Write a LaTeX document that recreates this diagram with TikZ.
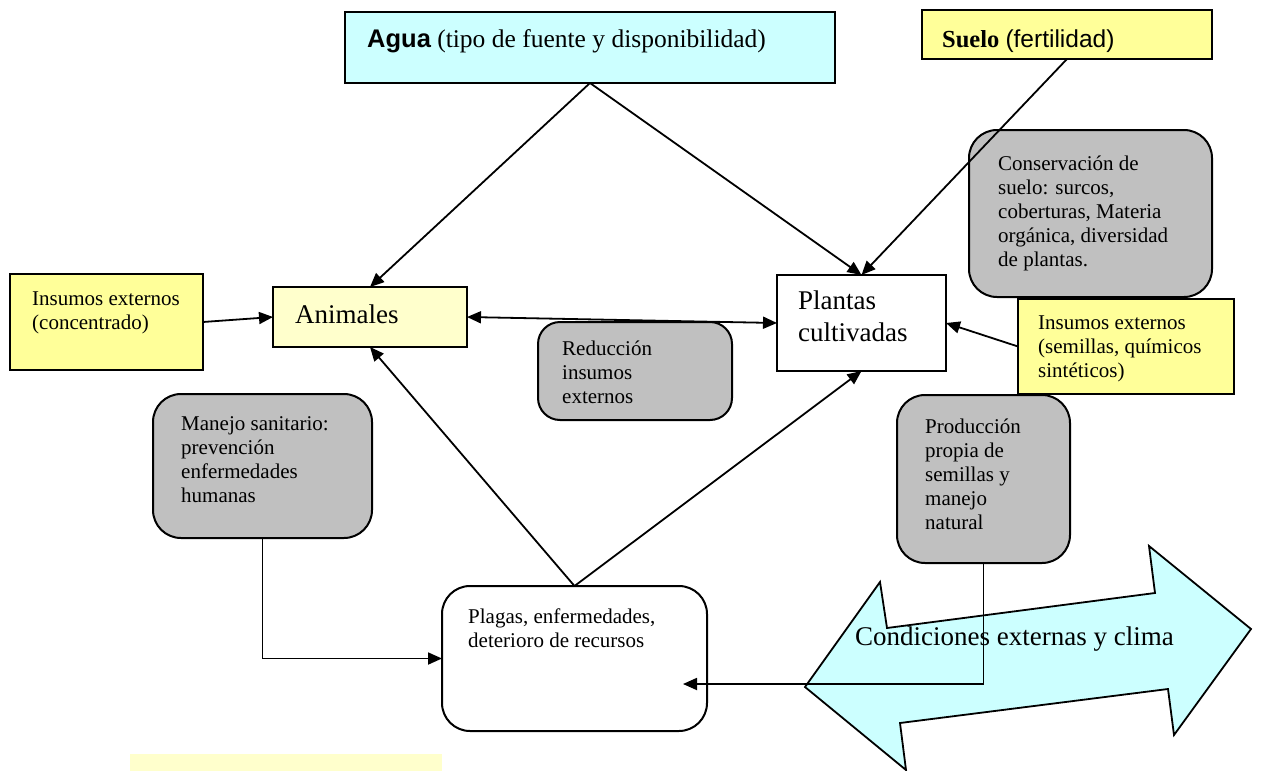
\documentclass[tikz,border=0pt]{standalone}
\usepackage{fontspec}
\setmainfont{Liberation Serif}
\newfontfamily\arialf{Liberation Sans}
\usetikzlibrary{arrows.meta}
\definecolor{cyanbg}{HTML}{CCFFFF}
\definecolor{ybg}{HTML}{FFFF99}
\definecolor{lybg}{HTML}{FFFFCC}
\definecolor{graybg}{HTML}{C0C0C0}
\begin{document}
\begin{tikzpicture}[x=1pt,y=-1pt,
 box/.style={draw, line width=2pt, anchor=north west, inner sep=0pt, outer sep=0pt},
 rbox/.style={box, fill=graybg, rounded corners=28pt},
 txt/.style={anchor=base west, inner sep=0pt, align=left, font=\fontsize{21}{24}\selectfont},
 bigtxt/.style={anchor=base west, inner sep=0pt, align=left, font=\fontsize{27}{32}\selectfont},
 arr/.style={line width=1.8pt, -{Triangle[length=14pt,width=12pt]}},
 darr/.style={line width=1.8pt, {Triangle[length=14pt,width=12pt]}-{Triangle[length=14pt,width=12pt]}},
]
\useasboundingbox (0,0) rectangle (1261,771);
\fill[white] (0,0) rectangle (1261,771);

% boxes
\node[box, fill=cyanbg, minimum width=490pt, minimum height=71pt] (agua) at (345,12) {};
\node[box, fill=ybg, minimum width=290pt, minimum height=49pt] (suelo) at (922,10) {};
\node[box, fill=ybg, minimum width=193pt, minimum height=96pt] (ins1) at (10,274) {};
\node[box, fill=lybg, minimum width=194pt, minimum height=60pt] (anim) at (273,287) {};
\node[box, fill=white, minimum width=169pt, minimum height=96pt] (plant) at (777,275) {};
\node[rbox, minimum width=243pt, minimum height=167pt] (cons) at (969,130) {};
\node[box, fill=ybg, minimum width=216pt, minimum height=95pt] (ins2) at (1018,299) {};
\node[rbox, minimum width=194pt, minimum height=98pt, rounded corners=22pt] (reduc) at (538,322) {};
\node[rbox, minimum width=219pt, minimum height=144pt] (manejo) at (153,394) {};
\node[rbox, minimum width=173pt, minimum height=168pt] (prod) at (897,395) {};
\node[box, fill=white, rounded corners=28pt, minimum width=265pt, minimum height=145pt] (plagas) at (442,586) {};
\node[anchor=north west, fill=lybg, inner sep=0pt, minimum width=312pt, minimum height=20pt] (ybot) at (130,754) {};

% texts (multi-line nodes anchored at the baseline of their last line)
\node[anchor=base west, inner sep=0pt, font=\fontsize{25.5}{30}\selectfont] (aguat) at (367,47) {{\arialf\bfseries Agua} (tipo de fuente y disponibilidad)};
\node[anchor=base west, inner sep=0pt, font=\fontsize{24.5}{30}\selectfont] (suelot) at (942,47) {{\bfseries Suelo} {\arialf (fertilidad)}};
\node[txt] (ins1t) at (32,329) {Insumos externos\\(concentrado)};
\node[bigtxt] (animt) at (295,323) {Animales};
\node[bigtxt] (plantt) at (798,341) {Plantas\\cultivadas};
\node[txt] (ins2t) at (1038,377) {Insumos externos\\(semillas, químicos\\sintéticos)};
\node[txt] (const) at (998,266) {Conservación de\\suelo: surcos,\\coberturas, Materia\\orgánica, diversidad\\de plantas.};
\node[txt] (reduct) at (562,403) {Reducción\\insumos\\externos};
\node[txt] (manejot) at (181,502) {Manejo sanitario:\\prevención\\enfermedades\\humanas};
\node[txt] (prodt) at (925,529) {Producción\\propia de\\semillas y\\manejo\\natural};
\node[txt] (plagast) at (468,647) {Plagas, enfermedades,\\deterioro de recursos};

% big double arrow
\draw[line width=1.8pt, fill=cyanbg, line join=miter]
 (805,687) -- (880,582) -- (887,628) -- (1155,593) -- (1149,546) -- (1251,629)
 -- (1174,735) -- (1168,689) -- (900,723) -- (906,770) -- cycle;
\node[bigtxt] (clima) at (855,645) {Condiciones externas y clima};

% connectors
\coordinate (pend) at (683,684);
\draw[arr] (agua.south) -- (anim.north);
\draw[arr] (agua.south) -- (plant.north);
\draw[arr] (suelo.south) -- (plant.north);
\draw[arr] (ins1.east) -- (anim.west);
\draw[darr] (anim.east) -- (plant.west);
\draw[arr] (ins2.west) -- (plant.east);
\draw[arr] (plagas.north) -- (anim.south);
\draw[arr] (plagas.north) -- (plant.south);
\draw[arr] (manejo.south) |- (plagas.west);
\draw[arr] (prod.south) |- (pend);
\end{tikzpicture}
\end{document}
